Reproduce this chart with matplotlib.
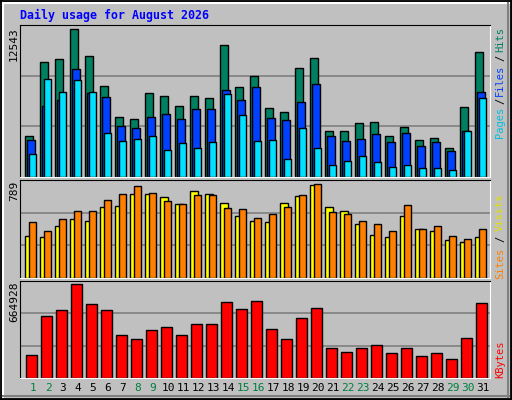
import matplotlib
matplotlib.use("Agg")
import matplotlib.pyplot as plt
import numpy as np

days = list(range(1, 32))
weekend = [1, 2, 8, 9, 15, 16, 22, 23, 29, 30]
hits = [3477,9719,9975,12543,10232,7752,5102,4931,7154,6897,6042,6897,6726,11172,7667,8522,5871,5529,9206,10061,3905,3905,4589,4674,3477,4247,3135,3306,2451,5957,10574]
files = [3135,6042,6555,9120,7154,6812,4332,4161,5102,5358,4931,5786,5786,7410,6555,7667,5016,4845,6384,7923,3477,3050,3221,3648,2964,3734,2622,2964,2195,3905,7239]
pages = [1938,8265,7239,8180,7239,3734,3050,3221,3477,2280,2879,2451,2964,7068,5273,3050,3135,1511,4161,2451,998,1340,1767,1254,827,998,741,741,570,3905,6726]
sites = [352,343,438,498,480,592,601,704,704,678,618,729,704,626,515,480,472,626,686,781,592,558,455,360,343,523,412,395,317,300,343]
visits = [472,395,498,558,558,652,704,772,712,643,618,695,695,583,575,506,532,592,695,789,549,532,480,455,395,609,412,438,352,326,412]
kbytes = [162609,439287,482973,664928,526659,482973,308229,279105,337353,359196,308229,381039,381039,541221,490254,548502,344634,279105,424725,497535,213576,184452,213576,235419,177171,213576,155328,177171,133485,286386,533940]

BG = "#C0C0C0"
W, H = 512, 400
fig = plt.figure(figsize=(5.12, 4.0), dpi=100, facecolor=BG)

def ax_at(x0, y0, x1, y1):
    return fig.add_axes([x0 / W, 1 - y1 / H, (x1 - x0) / W, (y1 - y0) / H])

x = np.arange(31)
XL = (0, 31.33)

def style(ax, top):
    ax.set_facecolor(BG)
    ax.set_xlim(*XL)
    ax.set_ylim(0, top)
    ax.set_xticks([])
    ax.set_yticks([top / 3, 2 * top / 3])
    ax.set_yticklabels([])
    ax.tick_params(length=0)
    ax.grid(axis="y", color="#808080", lw=1.2)
    ax.set_axisbelow(True)
    for s in ax.spines.values():
        s.set_color("black")
    ax.spines["right"].set_color("white")
    ax.spines["bottom"].set_color("white")

mono = "DejaVu Sans Mono"

a1 = ax_at(20, 25, 490, 177)
top1 = max(hits) * 1.027
style(a1, top1)
kw = dict(align="edge", edgecolor="black", linewidth=1)
a1.bar(x + 0.355, hits, 0.49, color="#008060", **kw)
a1.bar(x + 0.44, files, 0.53, color="#0040FF", **kw)
a1.bar(x + 0.6, pages, 0.49, color="#00E0FF", **kw)

a2 = ax_at(20, 180, 490, 278)
top2 = max(visits) * 1.04
style(a2, top2)
a2.bar(x + 0.355, sites, 0.5, color="#FFFF00", **kw)
a2.bar(x + 0.6, visits, 0.49, color="#FF8000", **kw)

a3 = ax_at(20, 281, 490, 378)
top3 = max(kbytes) * 1.035
style(a3, top3)
a3.bar(x + 0.42, kbytes, 0.69, color="#FF0000", **kw)

for d in days:
    a3.text(d - 1 + 0.87, -0.1, str(d), transform=a3.get_xaxis_transform(),
            ha="center", va="center", fontsize=8, family=mono,
            color="#008040" if d in weekend else "black")

fig.text(14 / W, 1 - 27 / H, str(max(hits)), rotation=90, ha="center", va="top", fontsize=8, family=mono)
fig.text(14 / W, 1 - 181 / H, str(max(visits)), rotation=90, ha="center", va="top", fontsize=8, family=mono)
fig.text(14 / W, 1 - 282 / H, str(max(kbytes)), rotation=90, ha="center", va="top", fontsize=8, family=mono)

def rlab(txt, ycenter, col):
    fig.text(500 / W, 1 - ycenter / H, txt, rotation=90, ha="center", va="center",
             fontsize=7.5, family=mono, color=col)

rlab("Hits", 40, "#008060")
rlab("/", 58, "black")
rlab("Files", 80, "#0040FF")
rlab("/", 101, "black")
rlab("Pages", 122, "#00C0E0")
rlab("Visits", 212, "#E0E000")
rlab("/", 239, "black")
rlab("Sites", 263, "#FF8000")
rlab("KBytes", 359, "#FF0000")

fig.text(20 / W, 1 - 15 / H, "Daily usage for August 2026", ha="left", va="center",
         fontsize=8.4, family=mono, weight="bold", color="#0000FF")

lines = [
    ((1, 1), (1, H - 1), "black"), ((1, W - 1), (H - 1, H - 1), "black"),
    ((W - 1, W - 1), (1, H - 1), "black"), ((1, W - 1), (1, 1), "black"),
    ((3, 3), (3, H - 3), "white"), ((3, W - 3), (H - 3, H - 3), "white"),
    ((W - 4, W - 4), (3, H - 3), "#808080"), ((3, W - 3), (4, 4), "#808080"),
]
for xs, ys, c in lines:
    fig.add_artist(plt.Line2D([v / W for v in xs], [v / H for v in ys], color=c, lw=2 if c == "black" else 1.5))

fig.savefig("out.png", dpi=100, facecolor=BG)
